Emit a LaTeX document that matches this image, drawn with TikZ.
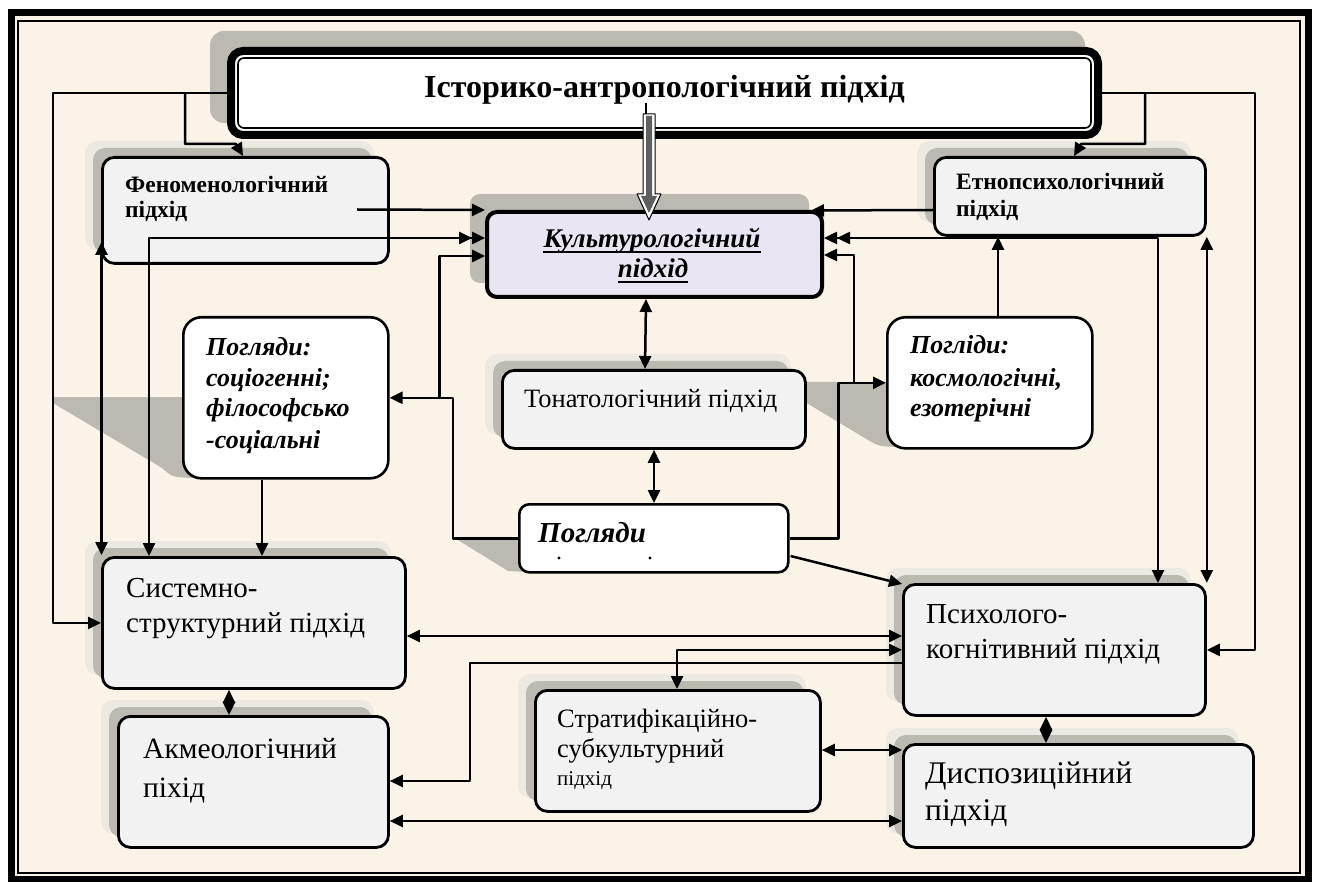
\documentclass[tikz,border=0pt]{standalone}
\usepackage{fontspec}
\setmainfont{Liberation Serif}
\usetikzlibrary{arrows.meta,calc}
\pgfdeclarelayer{bg}
\pgfdeclarelayer{shadow}
\pgfsetlayers{bg,shadow,main}

\definecolor{cream}{RGB}{251,243,232}
\definecolor{boxgray}{RGB}{242,242,242}
\definecolor{lav}{RGB}{233,229,242}
\definecolor{shd}{RGB}{188,185,177}
\definecolor{halo}{RGB}{236,233,226}
\definecolor{arrowfill}{RGB}{95,95,95}

\newcommand\fsz[1]{\fontsize{#1}{#1}\selectfont}

% soft two-tone shadow up and left of a box
\newcommand\softshadow[1]{%
  \fill[halo, rounded corners=12pt] ($(#1.north west)+(-16,-15)$) rectangle ($(#1.south east)+(-16,-15)$);
  \fill[shd, rounded corners=12pt] ($(#1.north west)+(-8,-8)$) rectangle ($(#1.south east)+(-18,-12)$);}

\tikzset{
  gbox/.style={draw=black, line width=2.8pt, fill=boxgray, rounded corners=12pt,
    anchor=north west, inner sep=0pt},
  wbox/.style={draw=black, line width=2.6pt, fill=white, rounded corners=18pt,
    anchor=north west, inner sep=0pt},
  lbl/.style={anchor=base west, inner sep=0pt},
  conn/.style={line width=2.5pt},
  arr/.style={conn, -{Triangle[length=13pt,width=12pt]}},
  dbl/.style={conn, {Triangle[length=13pt,width=12pt]}-{Triangle[length=13pt,width=12pt]}},
  ddbl/.style={conn, {Triangle[length=13pt,width=12pt]Triangle[length=13pt,width=12pt]}-{Triangle[length=13pt,width=12pt]}},
}

\begin{document}
\begin{tikzpicture}[x=1pt, y=-1pt, line join=round]
\useasboundingbox (0,0) rectangle (1317,882);

% page frame
\begin{pgfonlayer}{bg}
  \fill[white] (0,0) rectangle (1317,882);
  \fill[cream] (11,13) rectangle (1308,879);
  \draw[line width=7pt] (11,13) rectangle (1308,879);
  \draw[line width=1.8pt] (18,21) rectangle (1300,873);
\end{pgfonlayer}

% boxes
\node[draw=black, line width=8pt, fill=white, rounded corners=12pt, anchor=north west,
  inner sep=0pt, minimum width=867pt, minimum height=84pt] (title) at (227,47) {};
\draw[line width=1.6pt, rounded corners=6pt] ($(title.north west)+(11,11)$) rectangle ($(title.south east)+(-11,-11)$);

\node[draw=black, line width=4pt, fill=lav, rounded corners=10pt, anchor=north west,
  inner sep=0pt, minimum width=335pt, minimum height=85pt] (cult) at (485,210) {};

\node[gbox, minimum width=286pt, minimum height=106pt] (fen)  at (101,156) {};
\node[gbox, minimum width=271pt, minimum height=78pt]  (etno) at (933,156) {};
\node[gbox, minimum width=303pt, minimum height=78pt]  (tona) at (501,369) {};
\node[wbox, minimum width=205pt, minimum height=161pt] (pogL) at (182,316) {};
\node[wbox, minimum width=205pt, minimum height=131pt] (pogR) at (886,316) {};
\node[wbox, rounded corners=10pt, minimum width=269pt, minimum height=68pt] (pogC) at (518,503) {};
\node[gbox, minimum width=303pt, minimum height=131pt] (sys)  at (101,556) {};
\node[gbox, minimum width=302pt, minimum height=131pt] (psy)  at (902,583) {};
\node[gbox, minimum width=270pt, minimum height=131pt] (akm)  at (117,715) {};
\node[gbox, minimum width=285pt, minimum height=121pt] (str)  at (534,689) {};
\node[gbox, minimum width=350pt, minimum height=103pt] (disp) at (902,743) {};

% shadows
\begin{pgfonlayer}{shadow}
  \fill[shd, rounded corners=14pt] ($(title.north west)+(-17,-16)$) rectangle ($(title.south east)+(-17,-16)$);
  \fill[shd, rounded corners=10pt] ($(cult.north west)+(-15,-16)$) rectangle ($(cult.south east)+(-15,-16)$);
  \softshadow{fen}
  \softshadow{etno}
  \softshadow{tona}
  \softshadow{sys}
  \softshadow{psy}
  \softshadow{akm}
  \softshadow{str}
  \softshadow{disp}
  \fill[shd] ($(pogL.north west)+(-129,81)$) -- ($(pogL.north west)+(10,81)$)
    -- ($(pogL.north west)+(10,162)$) .. controls ($(pogL.north west)+(-10,161)$) .. ($(pogL.north west)+(-20,152)$)
    -- ($(pogL.north west)+(-129,87)$) -- cycle;
  \fill[shd] ($(pogR.north west)+(-91,66)$) -- ($(pogR.north west)+(9,66)$)
    -- ($(pogR.north west)+(9,131)$) .. controls ($(pogR.north west)+(-8,130)$) .. ($(pogR.north west)+(-18,124)$)
    -- ($(pogR.north west)+(-91,80)$) -- cycle;
  \fill[shd] ($(pogC.north west)+(-60,34)$) -- ($(pogC.north west)+(10,34)$)
    -- ($(pogC.north west)+(10,69)$) -- ($(pogC.north west)+(-10,68)$)
    -- ($(pogC.north west)+(-60,37)$) -- cycle;
\end{pgfonlayer}

% texts
\node[anchor=base, inner sep=0pt, font=\fsz{32}\bfseries] (t-title) at ($(title.north)+(0,51)$) {Історико-антропологічний підхід};

\node[anchor=base, inner sep=0pt, font=\fsz{27}\bfseries\itshape] (t-cult1) at ($(cult.north west)+(167,38)$) {Культурологічний};
\node[anchor=base, inner sep=0pt, font=\fsz{27}\bfseries\itshape] (t-cult2) at ($(cult.north west)+(168,68)$) {підхід};
\draw[line width=1.8pt] ($(t-cult1.base west)+(0,4)$) -- ($(t-cult1.base east)+(0,4)$);
\draw[line width=1.8pt] ($(t-cult2.base west)+(0,4)$) -- ($(t-cult2.base east)+(0,4)$);

\node[lbl, font=\fsz{23.5}\bfseries] (t-fen1) at ($(fen.north west)+(24,37)$) {Феноменологічний};
\node[lbl, font=\fsz{23.5}\bfseries] (t-fen2) at ($(fen.north west)+(24,62)$) {підхід};
\node[lbl, font=\fsz{23.5}\bfseries] (t-etno1) at ($(etno.north west)+(23,34)$) {Етнопсихологічний};
\node[lbl, font=\fsz{23.5}\bfseries] (t-etno2) at ($(etno.north west)+(23,61)$) {підхід};

\node[lbl, font=\fsz{26.5}] (t-tona) at ($(tona.north west)+(23,38)$) {Тонатологічний підхід};

\node[lbl, font=\fsz{26}\bfseries\itshape] (t-pogL1) at ($(pogL.north west)+(24,40)$) {Погляди:};
\node[lbl, font=\fsz{26}\bfseries\itshape] (t-pogL2) at ($(pogL.north west)+(24,71)$) {соціогенні;};
\node[lbl, font=\fsz{26}\bfseries\itshape] (t-pogL3) at ($(pogL.north west)+(24,101)$) {філософсько};
\node[lbl, font=\fsz{26}\bfseries\itshape] (t-pogL4) at ($(pogL.north west)+(24,132)$) {-соціальні};

\node[lbl, font=\fsz{26}\bfseries\itshape] (t-pogR1) at ($(pogR.north west)+(24,38)$) {Погліди:};
\node[lbl, font=\fsz{26}\bfseries\itshape] (t-pogR2) at ($(pogR.north west)+(24,70)$) {космологічні,};
\node[lbl, font=\fsz{26}\bfseries\itshape] (t-pogR3) at ($(pogR.north west)+(24,100)$) {езотерічні};

\node[lbl, font=\fsz{29}\bfseries\itshape] (t-pogC) at ($(pogC.north west)+(20,39)$) {Погляди};
\fill ($(pogC.north west)+(41,55)$) circle (1.6);
\fill ($(pogC.north west)+(132,55)$) circle (1.6);

\node[lbl, font=\fsz{29}] (t-sys1) at ($(sys.north west)+(25,41)$) {Системно-};
\node[lbl, font=\fsz{29}] (t-sys2) at ($(sys.north west)+(25,76)$) {структурний підхід};
\node[lbl, font=\fsz{29}] (t-psy1) at ($(psy.north west)+(24,40)$) {Психолого-};
\node[lbl, font=\fsz{29}] (t-psy2) at ($(psy.north west)+(24,75)$) {когнітивний підхід};
\node[lbl, font=\fsz{29.5}] (t-akm1) at ($(akm.north west)+(26,43)$) {Акмеологічний};
\node[lbl, font=\fsz{29.5}] (t-akm2) at ($(akm.north west)+(26,82)$) {піхід};
\node[lbl, font=\fsz{26.5}] (t-str1) at ($(str.north west)+(23,38)$) {Стратифікаційно-};
\node[lbl, font=\fsz{26.5}] (t-str2) at ($(str.north west)+(23,68)$) {субкультурний};
\node[lbl, font=\fsz{21}] (t-str3) at ($(str.north west)+(23,96)$) {підхід};
\node[lbl, font=\fsz{31.5}] (t-disp1) at ($(disp.north west)+(23,40)$) {Диспозиційний};
\node[lbl, font=\fsz{31.5}] (t-disp2) at ($(disp.north west)+(23,77)$) {підхід};

% block arrow from the top approach down to the cultural one
\coordinate (ba) at ($(cult.north west)+(164,10)$);
\draw[line width=1.2pt] ($(ba)+(-3,-117)$) -- ($(ba)+(-3,-105)$);
\filldraw[fill=white, draw=black, line width=1pt] (ba) -- ++(-12,-26) -- ++(6,0) -- ++(0,-80)
  -- ++(12,0) -- ++(0,80) -- ++(6,0) -- cycle;
\fill[arrowfill] ($(ba)+(0,-7)$) -- ++(-8,-17) -- ++(5,0) -- ++(0,-80) -- ++(6,0) -- ++(0,80) -- ++(5,0) -- cycle;

% connectors
\draw[arr] (title.west) -| ($(sys.west)+(-48,0)$) -- (sys.west);
\draw[arr] ($(title.west)+(-42,0)$) |- ($(fen.north west)+(135,-12)$) -- ($(fen.north west)+(142,0)$);
\draw[arr] (title.east) -| ($(psy.east)+(48,0)$) -- (psy.east);
\draw[arr] ($(title.east)+(43,0)$) |- ($(etno.north west)+(148,-12)$) -- ($(etno.north west)+(141,0)$);

\draw[arr] ($(fen.north west)+(256,53.5)$) -- (cult.north west);
\draw[ddbl] ($(cult.north west)+(0,28)$) -| ($(sys.north west)+(48,0)$);
\draw[dbl] ($(fen.south west)+(0.5,-23)$) -- ($(sys.north west)+(0.5,-1)$);

\draw[arr] (pogC.west) -- ++(-65,0) |- (pogL.east);
\draw[arr] ($(pogL.east)+(50,0)$) |- ($(cult.north west)+(0,46)$);
\draw[arr] (pogC.east) -- ++(49,0) |- (pogR.west);
\draw[arr] ($(pogR.west)+(-32,0)$) |- ($(cult.north east)+(0,45)$);

\draw[arr] ($(etno.north west)+(0,54)$) -- ($(cult.north east)+(-13,0.5)$);
\draw[ddbl] ($(cult.north east)+(0,28)$) -| ($(psy.north west)+(256,0)$);
\draw[arr] ($(pogR.north west)+(112,0)$) -- ($(etno.south west)+(65,0)$);
\draw[dbl] (etno.south east) -- (psy.north east);

\draw[dbl] ($(cult.south west)+(161,0)$) -- ($(tona.north west)+(144,0)$);
\draw[dbl] ($(tona.south west)+(153,0)$) -- ($(pogC.north west)+(136,0)$);
\draw[arr] ($(pogC.north east)+(1,53)$) -- ($(psy.north west)+(0,1)$);
\draw[arr] ($(pogL.south west)+(80,0)$) -- ($(sys.north west)+(161,0)$);

\draw[dbl] ($(sys.north east)+(0,80)$) -- ($(psy.north west)+(0,53)$);
\draw[dbl] (psy.west) -| ($(str.north west)+(143,0)$);
\draw[arr] ($(psy.west)+(0,13)$) -- ++(-432,0) |- ($(akm.north east)+(0,66)$);
\draw[dbl] ($(akm.north east)+(0,106)$) -- ($(disp.north west)+(0,78)$);
\draw[dbl] ($(str.north east)+(0,61)$) -- ($(disp.north west)+(0,7)$);
\draw[dbl] ($(sys.south west)+(128,0)$) -- ($(akm.north west)+(112,0)$);
\draw[dbl] ($(psy.south west)+(144,0)$) -- ($(disp.north west)+(144,0)$);
\end{tikzpicture}
\end{document}
